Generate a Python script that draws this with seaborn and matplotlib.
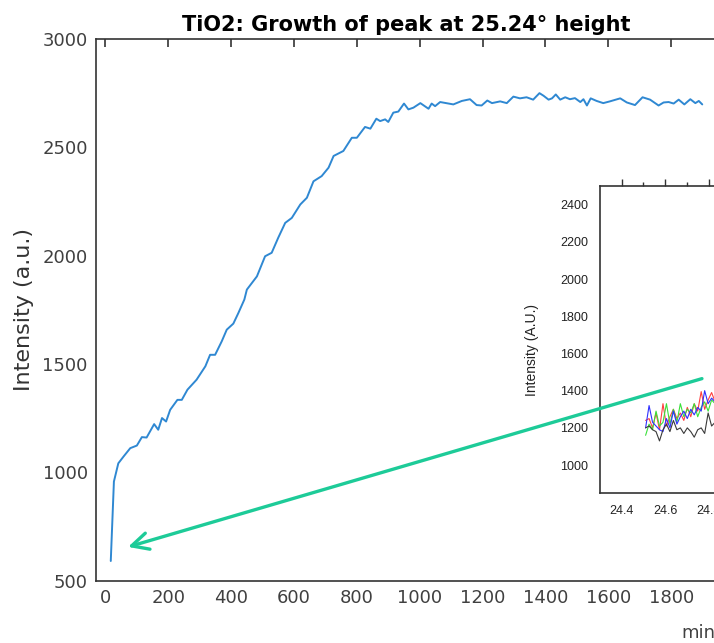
import numpy as np
import pandas as pd
import matplotlib
matplotlib.use("Agg")
import matplotlib.pyplot as plt
import seaborn as sns

# main series: peak height vs time (min)
minutes = [17, 27, 41, 58, 79, 100, 116, 131, 155, 168, 180, 193, 206, 229, 243,
           261, 290, 318, 333, 349, 370, 386, 407, 423, 442, 450, 482, 508, 529,
           550, 572, 593, 620, 641, 662, 688, 710, 726, 757, 784, 800, 826, 843,
           862, 874, 890, 900, 916, 932, 950, 964, 980, 1002, 1028, 1038, 1049,
           1065, 1107, 1134, 1160, 1181, 1197, 1215, 1230, 1256, 1277, 1298, 1319,
           1340, 1361, 1381, 1394, 1410, 1421, 1433, 1447, 1463, 1478, 1494, 1511,
           1521, 1532, 1544, 1563, 1584, 1605, 1638, 1659, 1685, 1709, 1733, 1760,
           1776, 1792, 1808, 1824, 1842, 1861, 1877, 1888, 1899]
height = [590, 957, 1041, 1073, 1111, 1123, 1162, 1160, 1222, 1196, 1250, 1234,
          1288, 1334, 1334, 1381, 1427, 1489, 1542, 1542, 1604, 1658, 1686, 1735,
          1797, 1843, 1904, 1997, 2013, 2083, 2151, 2174, 2236, 2267, 2343, 2367,
          2406, 2460, 2483, 2544, 2544, 2594, 2586, 2632, 2621, 2629, 2617, 2660,
          2665, 2702, 2675, 2683, 2704, 2678, 2702, 2690, 2709, 2698, 2714, 2722,
          2695, 2693, 2716, 2704, 2712, 2704, 2734, 2726, 2731, 2720, 2750, 2738,
          2720, 2726, 2744, 2720, 2731, 2722, 2727, 2709, 2722, 2693, 2726, 2714,
          2704, 2712, 2726, 2707, 2695, 2731, 2720, 2693, 2707, 2709, 2702, 2720,
          2698, 2722, 2704, 2714, 2698]

# inset: diffraction scans near the peak
two_theta = [round(24.51 + 0.016 * i, 3) for i in range(21)]
scan_red = [1240, 1250, 1200, 1280, 1190, 1330, 1210, 1260, 1300, 1250, 1280,
            1240, 1310, 1260, 1330, 1290, 1395, 1300, 1350, 1390, 1340]
scan_green = [1160, 1220, 1190, 1290, 1210, 1230, 1330, 1220, 1300, 1230, 1330,
              1260, 1300, 1280, 1330, 1260, 1310, 1340, 1290, 1350, 1330]
scan_blue = [1200, 1320, 1230, 1210, 1190, 1180, 1250, 1200, 1290, 1220, 1260,
             1290, 1250, 1300, 1270, 1310, 1290, 1400, 1330, 1360, 1340]
scan_black = [1200, 1210, 1190, 1180, 1130, 1190, 1220, 1180, 1240, 1190, 1200,
              1170, 1200, 1180, 1150, 1190, 1200, 1170, 1280, 1210, 1230]

# arrow from the inset down to the first point
arrow_tail = (1898, 1432)
arrow_tip = (72, 655)

sns.set_style("white")
plt.rcParams["font.family"] = ["DejaVu Sans"]

fig = plt.figure(figsize=(7.14, 6.43), dpi=100, facecolor="white")

# inset first (drawn underneath the main axes)
axin = fig.add_axes([600 / 714, 150 / 643, 152 / 714, 307 / 643], zorder=1)
axin.set_facecolor("white")
n = len(two_theta)
scans = pd.DataFrame({
    "two_theta": two_theta * 4,
    "intensity": scan_red + scan_green + scan_blue + scan_black,
    "scan": ["r"] * n + ["g"] * n + ["b"] * n + ["k"] * n,
})
sns.lineplot(data=scans, x="two_theta", y="intensity", hue="scan",
             palette={"r": "#ff4040", "g": "#3ae03a", "b": "#3030ff", "k": "#3a3a3a"},
             lw=0.8, legend=False, ax=axin)
axin.set_xlim(24.3, 25.0)
axin.set_ylim(850, 2500)
axin.set_xticks([24.4, 24.6, 24.8])
axin.set_xticks([24.5, 24.7, 24.9], minor=True)
axin.set_yticks(range(1000, 2401, 200))
axin.set_yticks(range(900, 2501, 100), minor=True)
axin.set_xlabel("")
axin.set_ylabel("Intensity (A.U.)", family="Liberation Sans", fontsize=10, color="#222222")
axin.yaxis.set_label_coords(-0.40, 0.466)
for s in axin.spines.values():
    s.set_color("#333333")
    s.set_linewidth(1.2)
axin.tick_params(which="both", direction="out", top=True, right=True,
                 color="#333333", width=1.0, labelsize=9, labelcolor="#222222")
axin.tick_params(which="major", length=5)
axin.tick_params(which="minor", length=3)
for lab in axin.get_xticklabels() + axin.get_yticklabels():
    lab.set_family("Liberation Sans")

# main axes
ax = fig.add_axes([96 / 714, 62.5 / 643, 638 / 714, 541.5 / 643], zorder=2)
ax.patch.set_visible(False)
sns.lineplot(x=minutes, y=height, color="#2f88d2", lw=1.4, ax=ax)
ax.set_xlim(-30, 2000)
ax.set_ylim(500, 3000)
ax.set_xticks(range(0, 1801, 200))
ax.set_yticks(range(500, 3001, 500))
ax.set_title("TiO2: Growth of peak at 25.24° height", fontsize=15,
             fontweight="bold", color="black", x=0.4856, pad=6)
ax.set_ylabel("Intensity (a.u.)", fontsize=16, color="#333333")
ax.yaxis.set_label_coords(-0.097, 0.5)
for s in ax.spines.values():
    s.set_color("#333333")
    s.set_linewidth(1.2)
ax.tick_params(direction="in", top=True, right=True, length=6, width=1.2,
               color="#333333", labelsize=13, labelcolor="#404040", pad=6)

ax.annotate("", xy=arrow_tip, xytext=arrow_tail,
            arrowprops=dict(arrowstyle="->,head_length=0.8,head_width=0.4",
                            color="#1dcb98", lw=2.4, mutation_scale=15,
                            shrinkA=0, shrinkB=0),
            annotation_clip=False)

fig.text(681 / 714, 1 - 633 / 643, "min", ha="left", va="center",
         fontsize=13, color="#404040")

fig.savefig("out.png", dpi=100, facecolor="white")
